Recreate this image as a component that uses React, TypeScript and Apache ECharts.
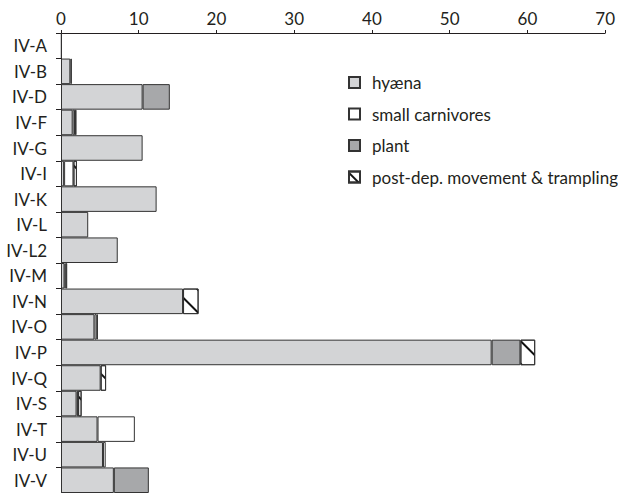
import React, { useEffect, useRef } from "react";
import * as echarts from "echarts";

const categories = ["IV-A", "IV-B", "IV-D", "IV-F", "IV-G", "IV-I", "IV-K", "IV-L", "IV-L2", "IV-M", "IV-N", "IV-O", "IV-P", "IV-Q", "IV-S", "IV-T", "IV-U", "IV-V"];
const hyaena = [0.1, 1.2, 10.5, 1.5, 10.5, 0.4, 12.3, 3.5, 7.3, 0.45, 15.7, 4.3, 55.4, 5.1, 2.0, 4.7, 5.4, 6.8];
const smallCarnivores = [0, 0, 0, 0.3, 0, 1.2, 0, 0, 0, 0.15, 0, 0.3, 0, 0, 0, 4.8, 0.35, 0];
const plant = [0, 0.2, 3.5, 0.2, 0, 0, 0, 0, 0, 0.2, 0, 0.15, 3.7, 0, 0.2, 0, 0, 4.5];
const postDep = [0, 0, 0, 0, 0, 0.45, 0, 0, 0, 0, 2.0, 0, 1.9, 0.7, 0.45, 0, 0, 0];
const xTicks = { min: 0, max: 70, interval: 10 };

const FONT = "Lato";
const TEXT = "#231f20";
const BORDER = "#333333";

const toData = (arr: number[]) => arr.map((v) => (v === 0 ? "-" : v));

export default function App() {
  const ref = useRef<HTMLDivElement>(null);
  useEffect(() => {
    if (!ref.current) return;
    const chart = echarts.init(ref.current, null, { renderer: "svg" });
    const mk = (name: string, data: number[], color: string, decal?: any) => ({
      name,
      type: "bar",
      stack: "total",
      barCategoryGap: "0%",
      data: toData(data),
      itemStyle: { color, borderColor: BORDER, borderWidth: 1, ...(decal ? { decal } : {}) },
      emphasis: { disabled: true },
    });
    chart.setOption({
      animation: false,
      backgroundColor: "#fff",
      textStyle: { fontFamily: FONT, color: TEXT },
      grid: { left: 61, right: 7, top: 33, bottom: 0, containLabel: false },
      legend: {
        orient: "vertical",
        left: 348,
        top: 74,
        padding: 0,
        itemWidth: 11,
        itemHeight: 11,
        itemGap: 14.5,
        icon: "rect",
        textStyle: { fontFamily: FONT, fontSize: 17, color: TEXT, padding: [0, 0, 0, 7] },
        data: ["hyæna", "small carnivores", "plant", "post-dep. movement & trampling"],
      },
      xAxis: {
        type: "value",
        position: "top",
        min: xTicks.min,
        max: xTicks.max,
        interval: xTicks.interval,
        splitLine: { show: false },
        axisLine: { show: true, lineStyle: { color: "#231f20", width: 1 } },
        axisTick: { show: true, length: 3, lineStyle: { color: "#231f20" } },
        axisLabel: { fontFamily: FONT, fontSize: 17, color: TEXT, margin: 6 },
      },
      yAxis: {
        type: "category",
        inverse: true,
        data: categories,
        axisLine: { show: true, lineStyle: { color: "#231f20", width: 1 } },
        axisTick: { show: true, length: 5, lineStyle: { color: "#231f20" } },
        axisLabel: { fontFamily: FONT, fontSize: 17, color: TEXT, margin: 14 },
      },
      series: [
        mk("hyæna", hyaena, "#d3d4d6"),
        mk("small carnivores", smallCarnivores, "#ffffff"),
        mk("plant", plant, "#a7a8aa"),
        mk("post-dep. movement & trampling", postDep, "#ffffff", {
          symbol: "rect",
          color: "#111",
          backgroundColor: "#ffffff",
          dashArrayX: [1, 0],
          dashArrayY: [1.5, 14],
          rotation: Math.PI / 4,
        }),
      ],
    });
    return () => chart.dispose();
  }, []);
  return <div ref={ref} style={{ width: 618, height: 493, position: "absolute", left: 0, top: 0 }} />;
}
